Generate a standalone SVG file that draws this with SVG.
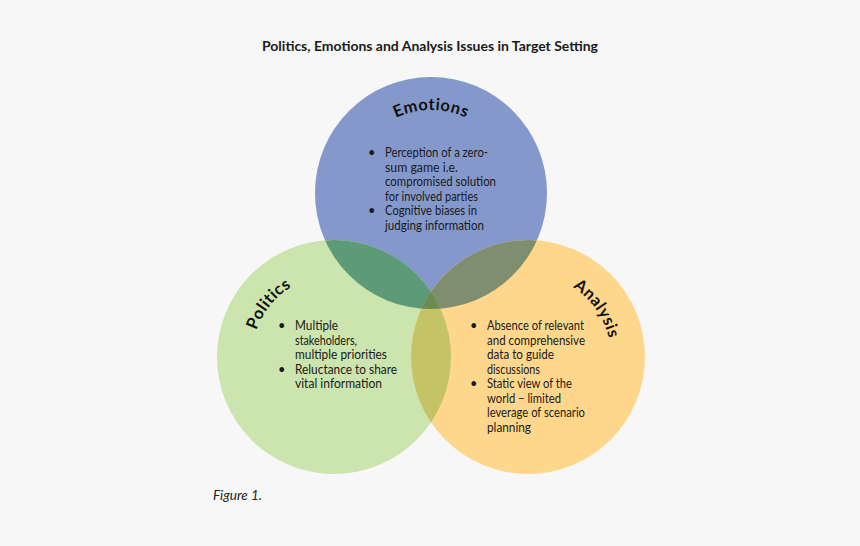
<svg xmlns="http://www.w3.org/2000/svg" xmlns:xlink="http://www.w3.org/1999/xlink" width="860" height="546" viewBox="0 0 860 546">
<style>
  .title{font-family:Lato,"Liberation Sans",sans-serif;font-weight:bold;font-size:14px;fill:#1a1a1a}
  .lbl{font-family:Lato,"Liberation Sans",sans-serif;font-weight:bold;font-size:16.5px;fill:#111;letter-spacing:0.5px}
  .b{font-family:Lato,"Liberation Sans",sans-serif;font-size:12.8px;fill:#1a1a1a}
  .fig{font-family:Lato,"Liberation Sans",sans-serif;font-style:italic;font-size:13.5px;fill:#222}
</style>
<defs>
  <clipPath id="cB"><circle cx="431" cy="193" r="116"/></clipPath>
  <clipPath id="cG"><circle cx="334" cy="357" r="117"/></clipPath>
  <path id="pE" d="M359.1,151.5 A83,83 0 0,1 502.9,151.5"/>
  <path id="pP" d="M257.4,386.4 A82,82 0 0,1 346.8,276.0"/>
  <path id="pA" d="M520.8,274.3 A83,83 0 0,1 603.2,392.1"/>
</defs>
<rect width="860" height="546" fill="#f7f7f7"/>
<text class="title" x="262" y="51" textLength="336" lengthAdjust="spacingAndGlyphs">Politics, Emotions and Analysis Issues in Target Setting</text>

<g id="emotions">
  <circle cx="431" cy="193" r="116" fill="#8598cc"/>
</g>
<g id="politics">
  <circle cx="334" cy="357" r="117" fill="#cce4ad"/>
</g>
<g id="analysis">
  <circle cx="528" cy="357" r="117" fill="#fed78c"/>
</g>
<g id="overlaps">
  <circle cx="334" cy="357" r="117" fill="#5d9b78" clip-path="url(#cB)"/>
  <circle cx="528" cy="357" r="117" fill="#7f8e6e" clip-path="url(#cB)"/>
  <circle cx="528" cy="357" r="117" fill="#c4c467" clip-path="url(#cG)"/>
  <g clip-path="url(#cB)"><circle cx="528" cy="357" r="117" fill="#6b8b52" clip-path="url(#cG)"/></g>
</g>

<g id="emotions-text">
  <text class="lbl"><textPath xlink:href="#pE" startOffset="50%" text-anchor="middle">Emotions</textPath></text>
  <text class="b" x="368" y="157">•</text>
  <text class="b" x="385" y="157" textLength="103" lengthAdjust="spacingAndGlyphs">Perception of a zero-</text>
  <text class="b" x="385" y="171.5" textLength="73" lengthAdjust="spacingAndGlyphs">sum game i.e.</text>
  <text class="b" x="385" y="186" textLength="111" lengthAdjust="spacingAndGlyphs">compromised solution</text>
  <text class="b" x="385" y="200.5" textLength="93" lengthAdjust="spacingAndGlyphs">for involved parties</text>
  <text class="b" x="368" y="215">•</text>
  <text class="b" x="385" y="215" textLength="92" lengthAdjust="spacingAndGlyphs">Cognitive biases in</text>
  <text class="b" x="385" y="229.5" textLength="99" lengthAdjust="spacingAndGlyphs">judging information</text>
</g>
<g id="politics-text">
  <text class="lbl"><textPath xlink:href="#pP" startOffset="50%" text-anchor="middle">Politics</textPath></text>
  <text class="b" x="278" y="330">•</text>
  <text class="b" x="295" y="330" textLength="43" lengthAdjust="spacingAndGlyphs">Multiple</text>
  <text class="b" x="295" y="344.5" textLength="62" lengthAdjust="spacingAndGlyphs">stakeholders,</text>
  <text class="b" x="295" y="359" textLength="92" lengthAdjust="spacingAndGlyphs">multiple priorities</text>
  <text class="b" x="278" y="373.5">•</text>
  <text class="b" x="295" y="373.5" textLength="102" lengthAdjust="spacingAndGlyphs">Reluctance to share</text>
  <text class="b" x="295" y="388" textLength="87" lengthAdjust="spacingAndGlyphs">vital information</text>
</g>
<g id="analysis-text">
  <text class="lbl"><textPath xlink:href="#pA" startOffset="50%" text-anchor="middle">Analysis</textPath></text>
  <text class="b" x="470" y="330">•</text>
  <text class="b" x="487" y="330" textLength="97" lengthAdjust="spacingAndGlyphs">Absence of relevant</text>
  <text class="b" x="487" y="344.5" textLength="98" lengthAdjust="spacingAndGlyphs">and comprehensive</text>
  <text class="b" x="487" y="359" textLength="67" lengthAdjust="spacingAndGlyphs">data to guide</text>
  <text class="b" x="487" y="373.5" textLength="53" lengthAdjust="spacingAndGlyphs">discussions</text>
  <text class="b" x="470" y="388">•</text>
  <text class="b" x="487" y="388" textLength="85" lengthAdjust="spacingAndGlyphs">Static view of the</text>
  <text class="b" x="487" y="402.5" textLength="74" lengthAdjust="spacingAndGlyphs">world – limited</text>
  <text class="b" x="487" y="417" textLength="98" lengthAdjust="spacingAndGlyphs">leverage of scenario</text>
  <text class="b" x="487" y="431.5" textLength="44" lengthAdjust="spacingAndGlyphs">planning</text>
</g>
<text class="fig" x="213" y="500" textLength="49" lengthAdjust="spacingAndGlyphs">Figure 1.</text>
</svg>
